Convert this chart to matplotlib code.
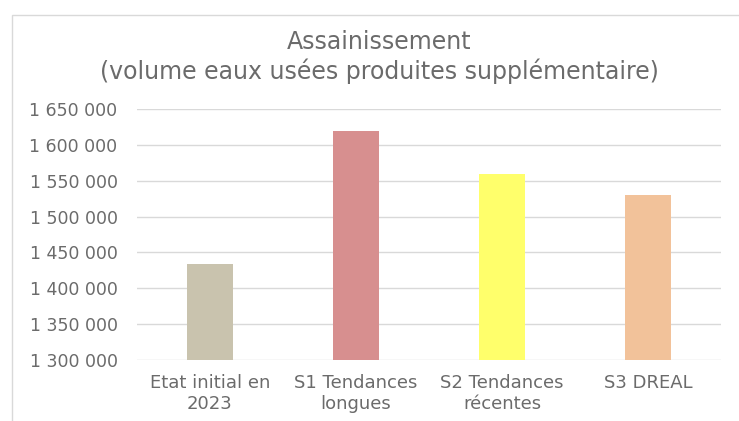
import matplotlib
matplotlib.use("Agg")
import matplotlib.pyplot as plt
from matplotlib.patches import Rectangle

categories = ["Etat initial en\n2023", "S1 Tendances\nlongues", "S2 Tendances\nrécentes", "S3 DREAL"]
values = [1434000, 1619000, 1560000, 1530000]
colors = ["#c9c3ae", "#d78f8f", "#ffff6b", "#f2c29a"]
yticks = [1300000, 1350000, 1400000, 1450000, 1500000, 1550000, 1600000, 1650000]
ytick_labels = ["1 300 000", "1 350 000", "1 400 000", "1 450 000", "1 500 000", "1 550 000", "1 600 000", "1 650 000"]
title = "Assainissement\n(volume eaux usées produites supplémentaire)"

plt.rcParams['font.family'] = ['DejaVu Sans']
txt = "#6b6b6b"

fig = plt.figure(figsize=(7.39, 4.21), dpi=100)
fig.patches.append(Rectangle((12/739, -0.01), 1.0, 1 - 15/421 + 0.01, transform=fig.transFigure,
                             fill=False, edgecolor="#d9d9d9", linewidth=1.0))
ax = fig.add_axes([137/739, 1 - 360/421, (721-137)/739, (360-109)/421])
x = list(range(len(categories)))
ax.bar(x, values, width=0.31, color=colors, zorder=3)
ax.set_ylim(1300000, 1650000)
ax.set_xlim(-0.5, 3.5)
ax.set_yticks(yticks)
ax.set_yticklabels(ytick_labels, color=txt, fontsize=12.5)
ax.set_xticks(x)
ax.set_xticklabels(categories, color=txt, fontsize=13, linespacing=1.25)
ax.tick_params(axis='x', length=0, pad=10)
ax.tick_params(axis='y', length=0, pad=14)
ax.grid(axis='y', color="#d9d9d9", linewidth=1.0, zorder=0)
for s in ax.spines.values():
    s.set_visible(False)
fig.text(379/739, 1 - 57/421, title, ha='center', va='center', fontsize=17, color=txt, linespacing=1.2)
fig.savefig("out.png", dpi=100)
